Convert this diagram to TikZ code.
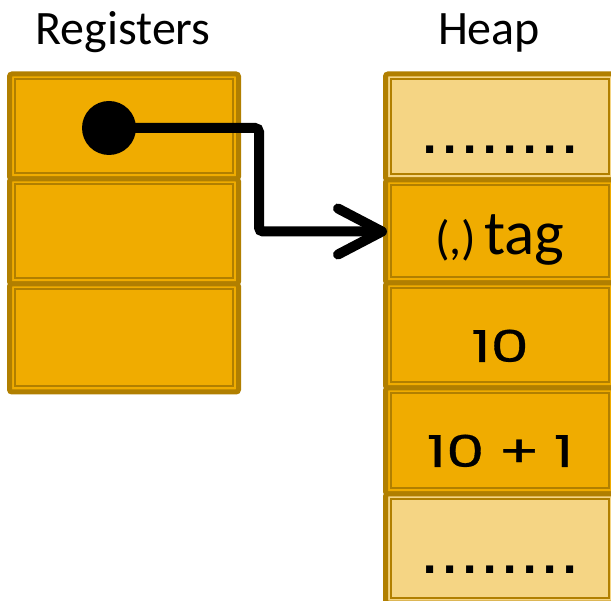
\documentclass[tikz,border=0pt]{standalone}
\usepackage{graphicx}
\usepackage{fontspec}
\setmainfont{Carlito}
\newfontfamily\numfont{Poppins}[FakeBold=0.6]
\newfontfamily\dotfont{DejaVu Sans}
\usetikzlibrary{arrows.meta}

\definecolor{cellfill}{HTML}{F0AC00}
\definecolor{cellpale}{HTML}{F5D584}
\definecolor{cellline}{HTML}{B17F00}

% gap between the dots of an elided heap region
\newcommand\dotgap{\kern 4.8pt}
% wide, round digits for the heap values
\newcommand\widenum[1]{\scalebox{1.38}[1]{#1}}

\tikzset{
  cell/.style={
    draw=cellline, line width=5pt, fill=cellfill,
    rounded corners=2.5pt, outer sep=0pt, inner sep=0pt,
    minimum width=229pt, anchor=north west,
    path picture={
      \draw[cellline, line width=2pt, sharp corners]
        ([shift={(5.5pt,5.5pt)}]path picture bounding box.south west)
        rectangle
        ([shift={(-5.5pt,-5.5pt)}]path picture bounding box.north east);
    }},
  pale/.style={fill=cellpale},
  title/.style={font=\fontsize{48}{48}\selectfont, anchor=base, inner sep=0pt},
  value/.style={font=\numfont\fontsize{44}{44}\selectfont, anchor=base, inner sep=0pt},
  tagtext/.style={font=\fontsize{63}{63}\selectfont, anchor=base, inner sep=0pt},
  dotrow/.style={font=\dotfont\bfseries\fontsize{40}{40}\selectfont, anchor=base, inner sep=0pt},
  pointer/.style={line width=10pt, rounded corners=4pt,
    -{Straight Barb[length=44pt,width=46pt,round]}},
}

\begin{document}
\begin{tikzpicture}[x=1pt, y=-1pt]
  \useasboundingbox (0,0) rectangle (611,601);
  \clip (0,0) rectangle (611,601);

  % column headings
  \node[title] (regtitle) at (123,45) {Registers};
  \node[title] (heaptitle) at (489,45) {Heap};

  % register file
  \node[cell, minimum height=105pt] (r1) at (9.5,74) {};
  \node[cell, minimum height=105pt] (r2) at (9.5,179) {};
  \node[cell, minimum height=108pt] (r3) at (9.5,284) {};

  % heap
  \node[cell, pale, minimum height=106pt] (h1) at (385.5,74) {};
  \node[cell, minimum height=103pt] (h2) at (385.5,180) {};
  \node[cell, minimum height=105pt] (h3) at (385.5,283) {};
  \node[cell, minimum height=106pt] (h4) at (385.5,388) {};
  \node[cell, pale, minimum height=109pt] (h5) at (385.5,494) {};

  % heap contents
  \node[dotrow] (d1) at (500,153.5) {.\dotgap.\dotgap.\dotgap.\dotgap.\dotgap.\dotgap.\dotgap.};
  \node[tagtext] (tag) at (500,255) {{\fontsize{48}{48}\selectfont(,)}\kern 8pt tag};
  \node[value] (v1) at (500,362) {\widenum{10}};
  \node[value] (v2) at (500,467) {\widenum{10}\kern 14pt\widenum{+}\kern 14pt\widenum{1}};
  \node[dotrow] (d2) at (500,573.5) {.\dotgap.\dotgap.\dotgap.\dotgap.\dotgap.\dotgap.\dotgap.};

  % pointer from the first register into the heap
  \node[circle, fill=black, minimum size=54pt, inner sep=0pt] (ptr) at (109,128) {};
  \coordinate (elbow) at (259,231.5);
  \draw[pointer] (ptr.center) -| (elbow) -- ([xshift=1.5pt]h2.west);
\end{tikzpicture}
\end{document}
